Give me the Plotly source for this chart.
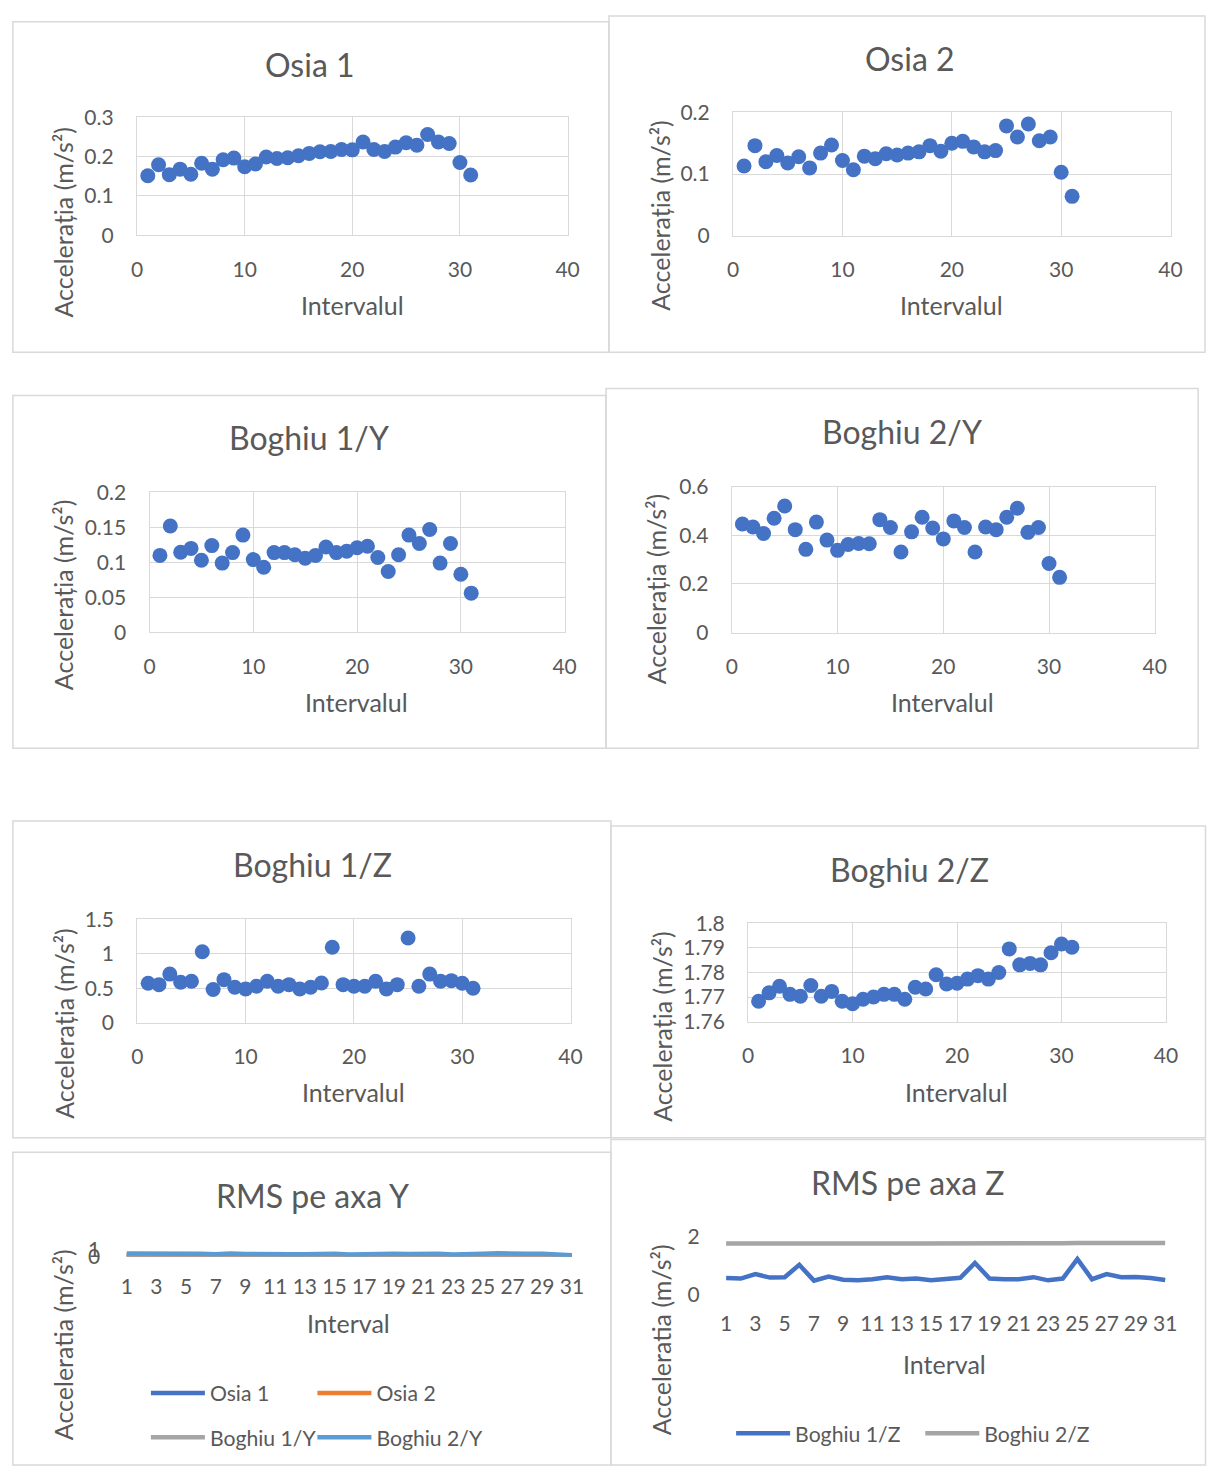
import plotly.graph_objects as go

W, H = 1218, 1475
FONT = "Lato"
TXT = "#595959"
GRID = "#d9d9d9"

# ---------------- data ----------------
intervals = list(range(1, 32))
osia1 = [0.151, 0.179, 0.154, 0.168, 0.155, 0.183, 0.168, 0.192, 0.196, 0.174,
         0.181, 0.199, 0.195, 0.197, 0.202, 0.208, 0.212, 0.213, 0.218, 0.217,
         0.237, 0.218, 0.213, 0.224, 0.235, 0.229, 0.256, 0.237, 0.233, 0.185, 0.153]
osia2 = [0.113, 0.146, 0.120, 0.130, 0.118, 0.128, 0.110, 0.134, 0.147, 0.122,
         0.107, 0.129, 0.125, 0.133, 0.131, 0.134, 0.136, 0.146, 0.137, 0.150,
         0.153, 0.144, 0.136, 0.138, 0.178, 0.160, 0.181, 0.154, 0.160, 0.103, 0.064]
boghiu1_y = [0.110, 0.152, 0.1145, 0.120, 0.103, 0.124, 0.099, 0.114, 0.139, 0.104,
             0.093, 0.114, 0.114, 0.111, 0.106, 0.110, 0.122, 0.114, 0.116, 0.121,
             0.123, 0.107, 0.087, 0.111, 0.139, 0.127, 0.147, 0.099, 0.127, 0.083, 0.056]
boghiu2_y = [0.446, 0.434, 0.407, 0.470, 0.520, 0.423, 0.342, 0.454, 0.380, 0.338,
             0.362, 0.366, 0.365, 0.464, 0.432, 0.331, 0.414, 0.474, 0.430, 0.385,
             0.459, 0.432, 0.331, 0.434, 0.423, 0.474, 0.511, 0.412, 0.432, 0.284, 0.227]
boghiu1_z = [0.571, 0.552, 0.705, 0.586, 0.600, 1.029, 0.481, 0.624, 0.514, 0.490,
             0.529, 0.600, 0.529, 0.552, 0.490, 0.514, 0.576, 1.095, 0.552, 0.529,
             0.529, 0.600, 0.490, 0.552, 1.229, 0.529, 0.705, 0.600, 0.610, 0.571, 0.500]
boghiu2_z = [1.7683, 1.7717, 1.7744, 1.7711, 1.7703, 1.7747, 1.7703, 1.7723, 1.7683, 1.7673,
             1.7691, 1.7700, 1.7711, 1.7711, 1.7691, 1.7740, 1.7733, 1.7791, 1.7753, 1.7756,
             1.7773, 1.7787, 1.7773, 1.7800, 1.7896, 1.7831, 1.7837, 1.7831, 1.7880, 1.7916, 1.7903]

scatter_x_ticks = [0, 10, 20, 30, 40]
ticks_osia1 = [0, 0.1, 0.2, 0.3]
ticks_osia2 = [0, 0.1, 0.2]
ticks_b1y = [0, 0.05, 0.1, 0.15, 0.2]
ticks_b2y = [0, 0.2, 0.4, 0.6]
ticks_b1z = [0, 0.5, 1, 1.5]
ticks_b2z = [1.76, 1.77, 1.78, 1.79, 1.8]
rms_x_ticks = [1, 3, 5, 7, 9, 11, 13, 15, 17, 19, 21, 23, 25, 27, 29, 31]
ticks_rms_y = [0, 1]
ticks_rms_z = [0, 2]

titles = ["Osia 1", "Osia 2", "Boghiu 1/Y", "Boghiu 2/Y", "Boghiu 1/Z", "Boghiu 2/Z",
          "RMS pe axa Y", "RMS pe axa Z"]
x_titles = ["Intervalul"] * 6 + ["Interval", "Interval"]
y_titles = ["Accelerația (m/s²)"] * 6 + ["Acceleratia (m/s²)"] * 2

# ---------------- layout geometry (pixels) ----------------
# plot area boxes: x0, x1, y0(top), y1(bottom)
boxes = [
    (133, 570, 105, 225),
    (738, 1182, 100, 225.7),
    (145.7, 567, 486.7, 629),
    (736.7, 1166, 480.7, 629.3),
    (133.3, 573, 921, 1026),
    (753.3, 1177.3, 925, 1025),
    (115, 582, 1256.7, 1264.3),
    (723.5, 1184, 1244, 1302.5),
]
title_pos = [(309, 51), (918, 45), (308, 431), (909, 425), (311, 865), (917, 870),
             (311, 1202), (916, 1189)]
xtitle_pos = [(352, 296), (960, 296), (356, 700), (951, 700), (353, 1097), (965, 1097),
              (348, 1332), (953, 1373)]
ytitle_pos = [(58, 212), (663, 205), (58, 591), (660, 585), (58, 1027), (665, 1030),
              (58, 1354), (665, 1349)]
frames = [(7, 612, 8, 344), (612, 1217, 2, 344), (7, 609, 388, 747), (609, 1210, 381, 747),
          (7, 614, 821, 1143), (614, 1217.5, 826, 1143), (7, 614, 1158, 1476),
          (614, 1217.5, 1145, 1476)]
# legend entries: (legend id, left x of the entry, centre y)
legend_slots = {"legend": (142, 1403), "legend2": (311, 1403),
                "legend3": (142, 1448), "legend4": (311, 1448),
                "legend5": (736, 1444), "legend6": (928, 1444)}


def px(x):
    return x / W


def py(y):
    return 1 - y / H


fig = go.Figure()

scatter_series = [osia1, osia2, boghiu1_y, boghiu2_y, boghiu1_z, boghiu2_z]
scatter_yticks = [ticks_osia1, ticks_osia2, ticks_b1y, ticks_b2y, ticks_b1z, ticks_b2z]

for i, ser in enumerate(scatter_series):
    n = "" if i == 0 else str(i + 1)
    fig.add_trace(go.Scatter(x=intervals, y=ser, mode="markers",
                             marker=dict(size=15, color="#4472C4", line=dict(width=0)),
                             xaxis="x" + n, yaxis="y" + n, showlegend=False,
                             cliponaxis=False, hoverinfo="x+y"))

rms_y_series = [("Osia 1", osia1, "#4472C4", "legend"),
                ("Osia 2", osia2, "#ED7D31", "legend2"),
                ("Boghiu 1/Y", boghiu1_y, "#A5A5A5", "legend3"),
                ("Boghiu 2/Y", boghiu2_y, "#5B9BD5", "legend4")]
for name, ser, col, leg in rms_y_series:
    fig.add_trace(go.Scatter(x=intervals, y=ser, mode="lines", name=name,
                             line=dict(color=col, width=4.5), xaxis="x7", yaxis="y7",
                             legend=leg, cliponaxis=False))

rms_z_series = [("Boghiu 1/Z", boghiu1_z, "#4472C4", "legend5"),
                ("Boghiu 2/Z", boghiu2_z, "#A5A5A5", "legend6")]
for name, ser, col, leg in rms_z_series:
    fig.add_trace(go.Scatter(x=intervals, y=ser, mode="lines", name=name,
                             line=dict(color=col, width=4.5), xaxis="x8", yaxis="y8",
                             legend=leg, cliponaxis=False))

tickfont = dict(family=FONT, size=21, color=TXT)
layout = {}
for i, (x0, x1, y0, y1) in enumerate(boxes):
    n = "" if i == 0 else str(i + 1)
    if i < 6:
        yt = scatter_yticks[i]
        xa = dict(domain=[px(x0), px(x1)], range=[0, 40], tickvals=scatter_x_ticks,
                  showgrid=True, gridcolor=GRID, gridwidth=1.3, zeroline=False,
                  showline=True, linecolor=GRID, linewidth=1.3, mirror=True,
                  ticks="", tickfont=tickfont, ticklabelstandoff=15, anchor="y" + n,
                  fixedrange=True)
        ya = dict(domain=[py(y1), py(y0)], range=[yt[0], yt[-1]], tickvals=yt,
                  showgrid=True, gridcolor=GRID, gridwidth=1.3, zeroline=False,
                  showline=True, linecolor=GRID, linewidth=1.3, mirror=True,
                  ticks="", tickfont=tickfont, ticklabelstandoff=18, anchor="x" + n,
                  fixedrange=True)
    else:
        yt = ticks_rms_y if i == 6 else ticks_rms_z
        xa = dict(domain=[px(x0), px(x1)], range=[0.5, 31.5], tickvals=rms_x_ticks,
                  showgrid=False, zeroline=False, showline=False,
                  ticks="", tickfont=tickfont, ticklabelstandoff=15, anchor="y" + n,
                  fixedrange=True)
        ya = dict(domain=[py(y1), py(y0)], range=[yt[0], yt[-1]], tickvals=yt,
                  showgrid=True, gridcolor=GRID, gridwidth=1.3, zeroline=False,
                  showline=False, ticks="", tickfont=tickfont, ticklabelstandoff=18,
                  anchor="x" + n, fixedrange=True)
    layout["xaxis" + n] = xa
    layout["yaxis" + n] = ya

annotations = []
for i in range(8):
    tx, ty = title_pos[i]
    annotations.append(dict(text=titles[i], x=px(tx), y=py(ty), xref="paper", yref="paper",
                            showarrow=False, xanchor="center", yanchor="middle",
                            font=dict(family=FONT, size=32, color=TXT)))
    ax, ay = xtitle_pos[i]
    annotations.append(dict(text=x_titles[i], x=px(ax), y=py(ay), xref="paper", yref="paper",
                            showarrow=False, xanchor="center", yanchor="middle",
                            font=dict(family=FONT, size=25, color=TXT)))
    yx, yy = ytitle_pos[i]
    annotations.append(dict(text=y_titles[i], x=px(yx), y=py(yy), xref="paper", yref="paper",
                            showarrow=False, xanchor="center", yanchor="middle", textangle=-90,
                            font=dict(family=FONT, size=25, color=TXT)))

shapes = []
for (x0, x1, y0, y1) in frames:
    shapes.append(dict(type="rect", xref="paper", yref="paper", x0=px(x0), x1=px(x1),
                       y0=py(y1), y1=py(y0), line=dict(color=GRID, width=1.5),
                       fillcolor="rgba(0,0,0,0)", layer="below"))

legfont = dict(family=FONT, size=21.2, color=TXT)
legends = {}
for key, (lx, ly) in legend_slots.items():
    legends[key] = dict(x=px(lx), y=py(ly), orientation="h", xanchor="left",
                        yanchor="middle", font=legfont, itemwidth=54,
                        bgcolor="rgba(0,0,0,0)", borderwidth=0,
                        itemclick=False, itemdoubleclick=False)

fig.update_layout(
    width=W, height=H, autosize=False,
    margin=dict(l=0, r=0, t=0, b=0),
    paper_bgcolor="white", plot_bgcolor="white",
    font=dict(family=FONT, color=TXT),
    annotations=annotations, shapes=shapes,
    **legends,
    **layout,
)

fig.write_html("out.html")
